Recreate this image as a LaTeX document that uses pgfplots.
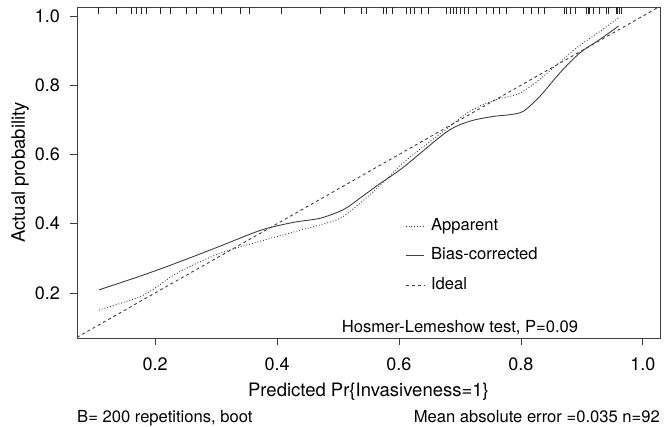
\documentclass[border=0pt]{standalone}
\usepackage{fontspec}
\setmainfont{TeX Gyre Heros}
\usepackage{pgfplots}
\usepackage{pgfplotstable}
\pgfplotsset{compat=1.18}

% predicted probabilities shown as the rug on top (y = top of the frame)
\pgfplotstableread{
x y
0.107 1.026
0.137 1.026
0.161 1.026
0.169 1.026
0.177 1.026
0.186 1.026
0.209 1.026
0.225 1.026
0.252 1.026
0.268 1.026
0.295 1.026
0.309 1.026
0.340 1.026
0.354 1.026
0.408 1.026
0.472 1.026
0.511 1.026
0.539 1.026
0.547 1.026
0.574 1.026
0.580 1.026
0.589 1.026
0.613 1.026
0.618 1.026
0.626 1.026
0.637 1.026
0.648 1.026
0.677 1.026
0.684 1.026
0.689 1.026
0.695 1.026
0.700 1.026
0.707 1.026
0.714 1.026
0.727 1.026
0.744 1.026
0.755 1.026
0.764 1.026
0.777 1.026
0.804 1.026
0.818 1.026
0.828 1.026
0.838 1.026
0.872 1.026
0.875 1.026
0.881 1.026
0.889 1.026
0.908 1.026
0.910 1.026
0.913 1.026
0.919 1.026
0.928 1.026
0.940 1.026
0.943 1.026
0.957 1.026
0.959 1.026
0.962 1.026
0.965 1.026
}\rugdata

\pgfplotstableread{
x y
0.108 0.151
0.181 0.194
0.236 0.257
0.307 0.315
0.400 0.363
0.471 0.397
0.504 0.416
0.536 0.459
0.564 0.503
0.613 0.585
0.673 0.667
0.716 0.725
0.760 0.759
0.793 0.773
0.820 0.802
0.853 0.850
0.891 0.908
0.930 0.956
0.960 0.995
}\apparent

\pgfplotstableread{
x y
0.108 0.209
0.176 0.249
0.231 0.284
0.302 0.332
0.373 0.381
0.427 0.404
0.471 0.416
0.509 0.441
0.536 0.474
0.564 0.510
0.607 0.563
0.678 0.665
0.716 0.696
0.755 0.710
0.782 0.715
0.804 0.725
0.831 0.768
0.864 0.836
0.897 0.894
0.930 0.933
0.960 0.971
}\biascorr

\begin{document}
\fontsize{16.6bp}{19.9bp}\selectfont
\begin{tikzpicture}
\path[use as bounding box] (-77bp,-89bp) rectangle (587bp,338bp);
\begin{axis}[
    scale only axis,
    width=583bp, height=331bp,
    at={(0,0)}, anchor=south west,
    xmin=0.072, xmax=1.028,
    ymin=0.07, ymax=1.026,
    clip=false,
    xtick={0.2,0.4,0.6,0.8,1.0},
    ytick={0.2,0.4,0.6,0.8,1.0},
    xticklabels={0.2,0.4,0.6,0.8,1.0},
    yticklabels={0.2,0.4,0.6,0.8,1.0},
    xtick pos=bottom, ytick pos=left,
    tick align=outside,
    major tick length=7bp,
    axis line style={black!75, line width=0.9bp},
    tick style={black!75, line width=0.9bp},
    xticklabel style={font=\fontsize{18bp}{21bp}\selectfont, anchor=north, inner sep=0pt, yshift=-13bp},
    yticklabel style={font=\fontsize{18bp}{21bp}\selectfont, anchor=east, inner sep=0pt, xshift=-10bp},
    xlabel={Predicted Pr\{Invasiveness=1\}},
    ylabel={Actual probability},
    xlabel style={font=\fontsize{18.5bp}{22bp}\selectfont, at={(rel axis cs:0.5,0)}, anchor=base, yshift=-58bp, inner sep=0pt},
    ylabel style={font=\fontsize{18.5bp}{22bp}\selectfont, at={(rel axis cs:0,0.5)}, anchor=base, yshift=52bp, inner sep=0pt},
    legend style={draw=none, fill=none, at={(0.5626,0.248)}, anchor=west,
        inner sep=0pt, row sep=13bp, column sep=7bp,
        nodes={inner sep=0pt, text height=12bp, text depth=4.5bp}},
    legend cell align=left,
    legend image code/.code={\draw[#1, line width=0.9bp] (0bp,0bp) -- (18bp,0bp);},
]
\addplot[forget plot, only marks, mark=|, mark size=3.5bp,
    mark options={yshift=-3.5bp, line width=0.9bp, black!85}]
    table[x=x, y=y] {\rugdata};
\addplot[black!75, line width=0.9bp, dotted, smooth] table[x=x, y=y] {\apparent};
\addlegendentry{Apparent}
\addplot[black!75, line width=0.9bp, smooth] table[x=x, y=y] {\biascorr};
\addlegendentry{Bias-corrected}
\addplot[black!75, line width=0.9bp, dashed] coordinates {(0.072,0.072) (1.026,1.026)};
\addlegendentry{Ideal}
\node[anchor=base, inner sep=0pt] at (rel axis cs:0.657,0.018) {Hosmer-Lemeshow test, P=0.09};
\end{axis}
\node[anchor=base west, inner sep=0pt] at (0bp,-84bp) {B= 200 repetitions, boot};
\node[anchor=base east, inner sep=0pt] at (583bp,-84bp) {Mean absolute error =0.035 n=92};
\end{tikzpicture}
\end{document}
